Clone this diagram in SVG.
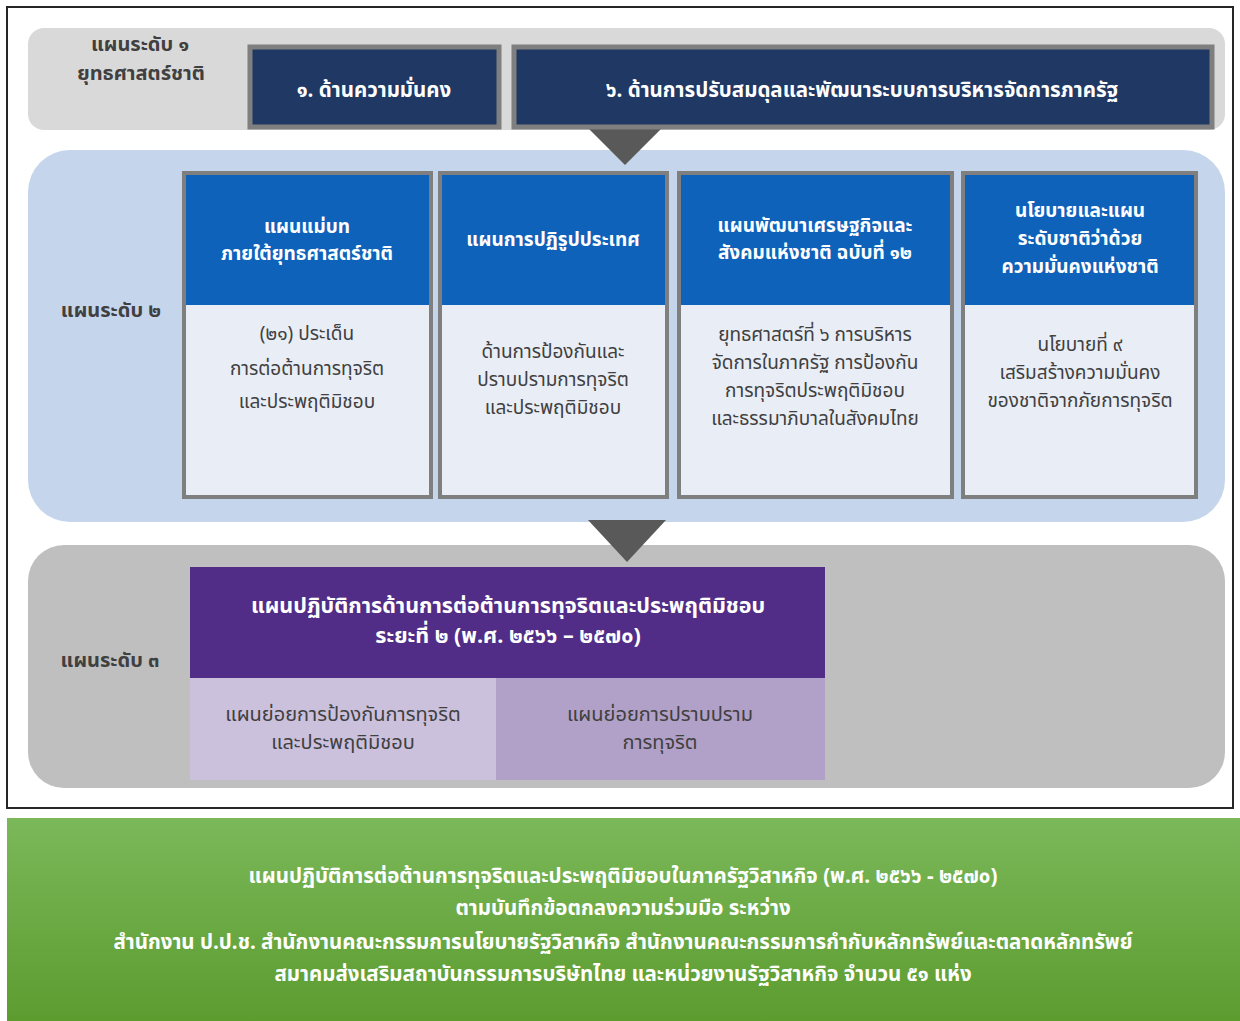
<svg xmlns="http://www.w3.org/2000/svg" width="1240" height="1021" viewBox="0 0 1240 1021">
<defs>
<linearGradient id="gr" x1="0" y1="0" x2="0" y2="1">
<stop offset="0" stop-color="#7bb85a"/>
<stop offset="1" stop-color="#5c9c2f"/>
</linearGradient>
<style>
text{font-family:"Noto Sans Thai","Noto Sans","Liberation Sans",sans-serif;text-anchor:middle;font-size:20px}
.lbl{fill:#404040;font-weight:bold;font-size:20px}
.w{fill:#ffffff;font-weight:bold;font-size:20.5px}
.h{fill:#ffffff;font-weight:bold;font-size:19px}
.b{fill:#404040;font-size:19px}
.p{fill:#404040;font-size:20px}
.pt{fill:#ffffff;font-weight:bold;font-size:21.5px}
.g{fill:#ffffff;font-weight:bold;font-size:20.5px}
.l1{fill:#1f3864;stroke:#7f7f7f;stroke-width:5}
.hd{fill:#0f62b9}
.bd{fill:#e9edf6}
.col{fill:none;stroke:#7f7f7f;stroke-width:4}
.tri{fill:#595959}
</style>
</defs>
<rect width="1240" height="1021" fill="#ffffff"/>
<rect x="7" y="7" width="1226" height="801" fill="none" stroke="#262626" stroke-width="2"/>
<g id="band1">
<rect x="28" y="28" width="1197" height="102" rx="16" fill="#d9d9d9"/>
<text class="lbl" x="140" y="51">แผนระดับ ๑</text>
<text class="lbl" x="141" y="80">ยุทธศาสตร์ชาติ</text>
</g>
<g id="band2">
<rect x="28" y="150" width="1197" height="372" rx="42" fill="#c5d5ec"/>
<text class="lbl" x="111" y="317">แผนระดับ ๒</text>
</g>
<g id="band3">
<rect x="28" y="545" width="1197" height="243" rx="36" fill="#bfbfbf"/>
<text class="lbl" x="110" y="667">แผนระดับ ๓</text>
</g>
<g id="connectors">
<polygon class="tri" points="588,128 662,128 625,165"/>
<polygon class="tri" points="588,520 666,520 627,562"/>
</g>
<g id="s1">
<rect class="l1" x="250" y="47" width="249" height="80"/>
<text class="w" x="374" y="97">๑. ด้านความมั่นคง</text>
</g>
<g id="s6">
<rect class="l1" x="514" y="47" width="698" height="80"/>
<text class="w" x="862" y="97">๖. ด้านการปรับสมดุลและพัฒนาระบบการบริหารจัดการภาครัฐ</text>
</g>
<g id="c1">
<rect class="hd" x="184" y="173" width="247" height="132"/>
<rect class="bd" x="184" y="305" width="247" height="192"/>
<rect class="col" x="184" y="173" width="247" height="324"/>
<text class="h" x="307" y="233">แผนแม่บท</text>
<text class="h" x="307" y="260">ภายใต้ยุทธศาสตร์ชาติ</text>
<text class="b" x="307" y="340">(๒๑) ประเด็น</text>
<text class="b" x="307" y="375">การต่อต้านการทุจริต</text>
<text class="b" x="307" y="408">และประพฤติมิชอบ</text>
</g>
<g id="c2">
<rect class="hd" x="440" y="173" width="227" height="132"/>
<rect class="bd" x="440" y="305" width="227" height="192"/>
<rect class="col" x="440" y="173" width="227" height="324"/>
<text class="h" x="553" y="246">แผนการปฏิรูปประเทศ</text>
<text class="b" x="553" y="358">ด้านการป้องกันและ</text>
<text class="b" x="553" y="386">ปราบปรามการทุจริต</text>
<text class="b" x="553" y="414">และประพฤติมิชอบ</text>
</g>
<g id="c3">
<rect class="hd" x="679" y="173" width="273" height="132"/>
<rect class="bd" x="679" y="305" width="273" height="192"/>
<rect class="col" x="679" y="173" width="273" height="324"/>
<text class="h" x="815" y="232">แผนพัฒนาเศรษฐกิจและ</text>
<text class="h" x="815" y="259">สังคมแห่งชาติ ฉบับที่ ๑๒</text>
<text class="b" x="815" y="341">ยุทธศาสตร์ที่ ๖ การบริหาร</text>
<text class="b" x="815" y="369">จัดการในภาครัฐ การป้องกัน</text>
<text class="b" x="815" y="397">การทุจริตประพฤติมิชอบ</text>
<text class="b" x="815" y="425">และธรรมาภิบาลในสังคมไทย</text>
</g>
<g id="c4">
<rect class="hd" x="963" y="173" width="233" height="132"/>
<rect class="bd" x="963" y="305" width="233" height="192"/>
<rect class="col" x="963" y="173" width="233" height="324"/>
<text class="h" x="1080" y="217">นโยบายและแผน</text>
<text class="h" x="1080" y="245">ระดับชาติว่าด้วย</text>
<text class="h" x="1080" y="273">ความมั่นคงแห่งชาติ</text>
<text class="b" x="1080" y="351">นโยบายที่ ๙</text>
<text class="b" x="1080" y="379">เสริมสร้างความมั่นคง</text>
<text class="b" x="1080" y="407">ของชาติจากภัยการทุจริต</text>
</g>
<g id="p3">
<rect x="190" y="567" width="635" height="111" fill="#512d87"/>
<text class="pt" x="508" y="613">แผนปฏิบัติการด้านการต่อต้านการทุจริตและประพฤติมิชอบ</text>
<text class="pt" x="508" y="643">ระยะที่ ๒ (พ.ศ. ๒๕๖๖ – ๒๕๗๐)</text>
</g>
<g id="p3a">
<rect x="190" y="678" width="306" height="102" fill="#ccc1dd"/>
<text class="p" x="343" y="721">แผนย่อยการป้องกันการทุจริต</text>
<text class="p" x="343" y="749">และประพฤติมิชอบ</text>
</g>
<g id="p3b">
<rect x="496" y="678" width="329" height="102" fill="#b1a0c7"/>
<text class="p" x="660" y="721">แผนย่อยการปราบปราม</text>
<text class="p" x="660" y="749">การทุจริต</text>
</g>
<g id="green">
<rect x="7" y="818" width="1233" height="203" fill="url(#gr)"/>
<text class="g" x="623" y="883">แผนปฏิบัติการต่อต้านการทุจริตและประพฤติมิชอบในภาครัฐวิสาหกิจ (พ.ศ. ๒๕๖๖ - ๒๕๗๐)</text>
<text class="g" x="623" y="915">ตามบันทึกข้อตกลงความร่วมมือ ระหว่าง</text>
<text class="g" x="623" y="949">สำนักงาน ป.ป.ช. สำนักงานคณะกรรมการนโยบายรัฐวิสาหกิจ สำนักงานคณะกรรมการกำกับหลักทรัพย์และตลาดหลักทรัพย์</text>
<text class="g" x="623" y="981">สมาคมส่งเสริมสถาบันกรรมการบริษัทไทย และหน่วยงานรัฐวิสาหกิจ จำนวน ๕๑ แห่ง</text>
</g>
</svg>
